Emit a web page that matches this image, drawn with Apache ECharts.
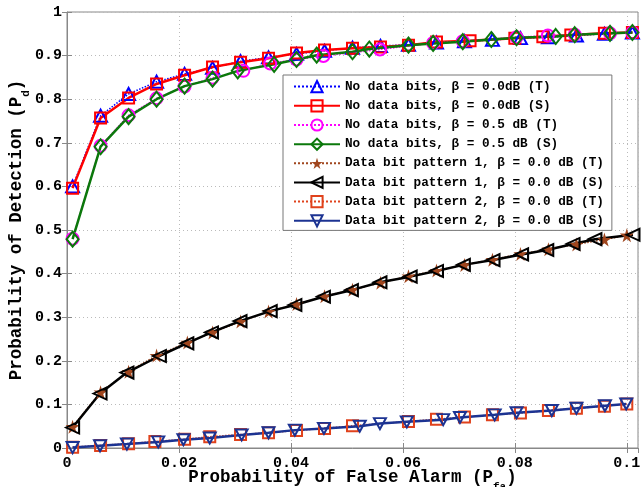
<!DOCTYPE html>
<html><head><meta charset="utf-8">
<script src="https://cdn.jsdelivr.net/npm/echarts@6/dist/echarts.min.js"></script>
<style>html,body{margin:0;padding:0;background:#fff}#c{width:642px;height:487px}</style>
</head><body><div id="c"></div>
<script>
// x ticks / y ticks
var xTicks = [0, 0.02, 0.04, 0.06, 0.08, 0.1];
var yTicks = [0, 0.1, 0.2, 0.3, 0.4, 0.5, 0.6, 0.7, 0.8, 0.9, 1];

// No data bits, beta = 0.0 dB (T)
var nd0T_x = [0.001,0.006,0.011,0.016,0.021,0.026,0.031,0.036,0.041,0.046,0.051,0.056,0.061,0.066,0.071,0.076,0.081,0.086,0.091,0.096,0.101];
var nd0T_y = [0.600,0.762,0.812,0.840,0.858,0.872,0.887,0.896,0.904,0.911,0.918,0.922,0.925,0.930,0.933,0.936,0.940,0.942,0.946,0.950,0.953];
// No data bits, beta = 0.0 dB (S)
var nd0S_x = [0.001,0.006,0.011,0.016,0.021,0.026,0.031,0.036,0.041,0.046,0.051,0.056,0.061,0.066,0.072,0.080,0.085,0.090,0.096,0.101];
var nd0S_y = [0.596,0.757,0.803,0.835,0.855,0.874,0.885,0.894,0.906,0.913,0.917,0.920,0.924,0.931,0.934,0.940,0.943,0.947,0.951,0.953];
// No data bits, beta = 0.5 dB (T)
var nd5T_x = [0.001,0.006,0.011,0.016,0.021,0.026,0.0315,0.0363,0.041,0.0458,0.0559,0.0654,0.0707,0.0803,0.0859,0.0907,0.097,0.101];
var nd5T_y = [0.480,0.693,0.763,0.802,0.829,0.849,0.865,0.882,0.891,0.899,0.914,0.929,0.933,0.942,0.946,0.948,0.951,0.953];
// No data bits, beta = 0.5 dB (S)
var nd5S_x = [0.001,0.006,0.011,0.016,0.021,0.026,0.0305,0.037,0.041,0.0446,0.051,0.054,0.061,0.0654,0.0707,0.0758,0.0803,0.0873,0.0907,0.097,0.101];
var nd5S_y = [0.479,0.691,0.760,0.800,0.830,0.846,0.865,0.880,0.891,0.901,0.909,0.915,0.924,0.928,0.932,0.937,0.941,0.944,0.948,0.951,0.953];
// Data bit pattern 1 (T)
var p1T_x = [0.001,0.006,0.011,0.016,0.0215,0.026,0.031,0.036,0.041,0.046,0.051,0.056,0.061,0.066,0.071,0.076,0.081,0.086,0.091,0.096,0.100];
var p1T_y = [0.049,0.128,0.175,0.212,0.242,0.265,0.290,0.313,0.330,0.348,0.363,0.379,0.394,0.407,0.420,0.432,0.445,0.456,0.467,0.478,0.488];
// Data bit pattern 1 (S)
var p1S_x = [0.001,0.0059,0.0107,0.0165,0.0214,0.0258,0.0309,0.0363,0.0407,0.0458,0.0508,0.0559,0.0613,0.066,0.0708,0.0761,0.0812,0.0857,0.0904,0.0943,0.1011];
var p1S_y = [0.047,0.125,0.173,0.211,0.240,0.265,0.291,0.314,0.328,0.347,0.362,0.380,0.393,0.406,0.420,0.431,0.444,0.454,0.468,0.479,0.489];
// Data bit pattern 2 (T)
var p2T_x = [0.001,0.006,0.011,0.0157,0.021,0.0255,0.031,0.036,0.041,0.046,0.051,0.061,0.066,0.071,0.076,0.081,0.086,0.091,0.096,0.100];
var p2T_y = [0.002,0.006,0.010,0.015,0.020,0.026,0.031,0.035,0.040,0.045,0.051,0.061,0.066,0.071,0.076,0.080,0.086,0.091,0.096,0.101];
// Data bit pattern 2 (S)
var p2S_x = [0.001,0.0059,0.0107,0.0163,0.0208,0.0255,0.0312,0.036,0.0407,0.0459,0.0523,0.0559,0.0607,0.0672,0.0702,0.0764,0.0803,0.0866,0.091,0.0961,0.0999];
var p2S_y = [0.001,0.005,0.009,0.014,0.019,0.023,0.030,0.035,0.041,0.045,0.050,0.056,0.060,0.065,0.070,0.076,0.081,0.086,0.091,0.097,0.101];

var names = [
  'No data bits, \u03b2 = 0.0dB (T)',
  'No data bits, \u03b2 = 0.0dB (S)',
  'No data bits, \u03b2 = 0.5 dB (T)',
  'No data bits, \u03b2 = 0.5 dB (S)',
  'Data bit pattern 1, \u03b2 = 0.0 dB (T)',
  'Data bit pattern 1, \u03b2 = 0.0 dB (S)',
  'Data bit pattern 2, \u03b2 = 0.0 dB (T)',
  'Data bit pattern 2, \u03b2 = 0.0 dB (S)'
];

function pairs(xs, ys) { return xs.map(function (x, i) { return [x, ys[i]]; }); }

var STAR = 'path://M50,0 L61,35 L98,35 L68,57 L79,91 L50,70 L21,91 L32,57 L2,35 L39,35 Z';

function mk(name, xs, ys, color, dotted, symbol, size, rotate, filled) {
  return {
    name: name, type: 'line', data: pairs(xs, ys),
    symbol: symbol, symbolSize: size, symbolRotate: rotate || 0, showAllSymbol: true,
    lineStyle: { color: color, width: dotted ? 1.5 : 2.5, type: dotted ? 'dotted' : 'solid' },
    itemStyle: { color: filled ? color : 'rgba(255,255,255,0)', borderColor: color, borderWidth: filled ? 0 : 2 },
    emphasis: { disabled: true }, animation: false
  };
}

var series = [
  mk(names[0], nd0T_x, nd0T_y, '#0000ff', true, 'triangle', [13, 12]),
  mk(names[1], nd0S_x, nd0S_y, '#ff0000', false, 'rect', 11),
  mk(names[2], nd5T_x, nd5T_y, '#ff00ff', true, 'circle', 12),
  mk(names[3], nd5S_x, nd5S_y, '#0b780b', false, 'diamond', [12, 15]),
  mk(names[4], p1T_x, p1T_y, '#a0461e', true, STAR, 14, 0, true),
  mk(names[5], p1S_x, p1S_y, '#000000', false, 'triangle', [12, 13], 90),
  mk(names[6], p2T_x, p2T_y, '#e0421c', true, 'rect', 11),
  mk(names[7], p2S_x, p2S_y, '#1c3392', false, 'triangle', [12, 11], 180)
];

var FONT = 'Liberation Mono';
var tickFont = { fontFamily: FONT, fontWeight: 'bold', fontSize: 15, color: '#000' };
var nameRich = {
  a: { fontFamily: FONT, fontWeight: 'bold', fontSize: 17.5, color: '#000', verticalAlign: 'top', lineHeight: 18 },
  s: { fontFamily: FONT, fontWeight: 'bold', fontSize: 11, color: '#000', verticalAlign: 'bottom', lineHeight: 24 }
};

var option = {
  backgroundColor: '#fff',
  animation: false,
  grid: { left: 67, right: 4, top: 12, bottom: 39, show: true, borderColor: '#888', borderWidth: 1,
          containLabel: false, outerBoundsMode: 'none' },
  legend: {
    orient: 'vertical', left: 283, top: 75,
    padding: [5, 8, 3, 10], itemGap: 6, itemWidth: 46, itemHeight: 14,
    backgroundColor: '#fff', borderColor: '#777', borderWidth: 1,
    textStyle: { fontFamily: FONT, fontWeight: 'bold', fontSize: 12.7, color: '#000' },
    data: names
  },
  xAxis: [{
    type: 'value', min: 0, max: 0.102, interval: 0.02, position: 'bottom',
    axisLine: { lineStyle: { color: '#888' } },
    axisTick: { inside: true, length: 5, lineStyle: { color: '#888' } },
    axisLabel: Object.assign({ margin: 8, showMaxLabel: false, hideOverlap: false }, tickFont),
    splitLine: { show: true, lineStyle: { color: '#bbb', type: [1, 3] } },
    name: '{a|Probability of False Alarm (P}{s|fa}{a|)}', nameLocation: 'middle', nameGap: 21,
    nameMoveOverlap: false,
    nameTextStyle: { rich: nameRich }
  }, {
    type: 'value', min: 0, max: 0.102, interval: 0.02, position: 'top',
    axisLine: { show: false }, axisLabel: { show: false }, splitLine: { show: false },
    axisTick: { inside: true, length: 5, lineStyle: { color: '#888' } }
  }],
  yAxis: [{
    type: 'value', min: 0, max: 1, interval: 0.1, position: 'left',
    axisLine: { show: true, lineStyle: { color: '#888' } },
    axisTick: { show: true, inside: true, length: 5, lineStyle: { color: '#888' } },
    axisLabel: Object.assign({ margin: 5 }, tickFont),
    splitLine: { show: true, lineStyle: { color: '#bbb', type: [1, 3] } },
    name: '{a|Probability of Detection (P}{s|d}{a|)}', nameLocation: 'middle', nameGap: 35, nameRotate: 90,
    nameMoveOverlap: false,
    nameTextStyle: { rich: nameRich }
  }, {
    type: 'value', min: 0, max: 1, interval: 0.1, position: 'right',
    axisLine: { show: false }, axisLabel: { show: false }, splitLine: { show: false },
    axisTick: { show: true, inside: true, length: 5, lineStyle: { color: '#888' } }
  }],
  series: series
};

var chart = echarts.init(document.getElementById('c'), null, { renderer: 'canvas' });
chart.setOption(option);
</script>
</body></html>
